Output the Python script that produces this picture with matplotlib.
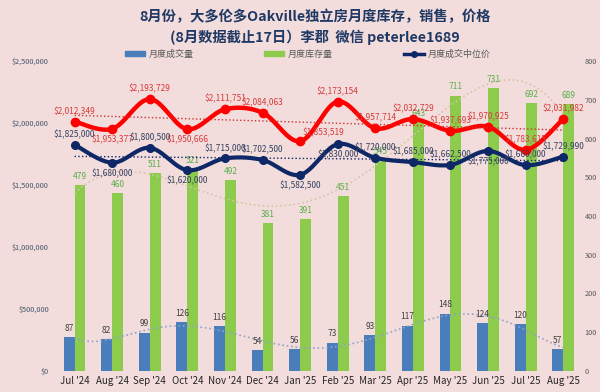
import matplotlib
matplotlib.use("Agg")
import matplotlib.pyplot as plt
import numpy as np
from matplotlib.lines import Line2D
from matplotlib.patches import Patch
from matplotlib.ticker import FuncFormatter

plt.rcParams["font.family"] = ["Noto Sans CJK SC", "DejaVu Sans"]

MONTHS = ["Jul '24", "Aug '24", "Sep '24", "Oct '24", "Nov '24", "Dec '24", "Jan '25",
          "Feb '25", "Mar '25", "Apr '25", "May '25", "Jun '25", "Jul '25", "Aug '25"]
SALES = [87, 82, 99, 126, 116, 54, 56, 73, 93, 117, 148, 124, 120, 57]
INVENTORY = [479, 460, 511, 521, 492, 381, 391, 451, 545, 643, 711, 731, 692, 689]
AVG_PRICE = [2012349, 1953377, 2193729, 1950666, 2111751, 2084063, 1853519,
             2173154, 1957714, 2032729, 1937693, 1970925, 1783615, 2031982]
MEDIAN_PRICE = [1825000, 1680000, 1800500, 1620000, 1715000, 1702500, 1582500,
                1830000, 1720000, 1685000, 1662500, 1775000, 1660000, 1729990]

# label placement: 1 above, -1 below, 2 to the right
AVG_POS = [1, -1, 1, -1, 1, 1, 2, 1, 1, 1, 1, 1, 1, 1]
MED_POS = [1, -1, 1, -1, 1, 1, -1, -1, 1, 1, 1, -1, 1, 1]

BG = "#F2DDDC"
BLUE = "#4A7EBB"
GREEN = "#8CCB4C"
RED = "#FF0000"
NAVY = "#0E2766"
TITLE = "#1F3864"


def smooth(x, y, n=24):
    """Catmull-Rom curve through the points, like Excel's smoothed line."""
    x = np.asarray(x, float)
    y = np.asarray(y, float)
    px = np.concatenate([[x[0]], x, [x[-1]]])
    py = np.concatenate([[y[0]], y, [y[-1]]])
    xs, ys = [], []
    t = np.linspace(0, 1, n, endpoint=False)
    for i in range(1, len(px) - 2):
        for p, out in ((px, xs), (py, ys)):
            p0, p1, p2, p3 = p[i - 1], p[i], p[i + 1], p[i + 2]
            out.extend(0.5 * (2 * p1 + (-p0 + p2) * t + (2 * p0 - 5 * p1 + 4 * p2 - p3) * t ** 2
                              + (-p0 + 3 * p1 - 3 * p2 + p3) * t ** 3))
    xs.append(x[-1])
    ys.append(y[-1])
    return np.array(xs), np.array(ys)


def main() -> None:
    x = np.arange(len(MONTHS))
    fig = plt.figure(figsize=(6.0, 3.92), dpi=100, facecolor=BG)
    ax_cnt = fig.add_axes([0.093, 0.054, 0.877, 0.790])
    ax_px = ax_cnt.twinx()
    ax_cnt.set_zorder(1)
    ax_px.set_zorder(2)
    for a in (ax_cnt, ax_px):
        a.set_facecolor("none")
        for s in a.spines.values():
            s.set_visible(False)

    # bars on the count axis (right side)
    w = 0.29
    ax_cnt.bar(x - w / 2, SALES, w, color=BLUE)
    ax_cnt.bar(x + w / 2, INVENTORY, w, color=GREEN)
    xf = np.linspace(0, len(x) - 1, 200)
    ax_cnt.plot(xf, np.polyval(np.polyfit(x, SALES, 6), xf), ls=":", lw=1.2, color="#8FA3C8")
    ax_cnt.plot(xf, np.polyval(np.polyfit(x, INVENTORY, 4), xf), ls=":", lw=1.2, color="#D8C3A3")
    for xi, v in zip(x, SALES):
        ax_cnt.annotate(str(v), (xi - w / 2, v), xytext=(0, 3), textcoords="offset points",
                        ha="center", va="bottom", fontsize=6, color="#404040")
    for xi, v in zip(x, INVENTORY):
        ax_cnt.annotate(str(v), (xi + w / 2, v), xytext=(0, 3), textcoords="offset points",
                        ha="center", va="bottom", fontsize=6, color="#5AAE48")
    ax_cnt.set_ylim(0, 800)
    ax_cnt.set_yticks(range(0, 801, 100))
    ax_cnt.yaxis.tick_right()

    # price lines on the dollar axis (left side)
    sx, sy = smooth(x, AVG_PRICE)
    ax_px.plot(sx, sy, color=RED, lw=3.2, solid_capstyle="round")
    ax_px.plot(x, AVG_PRICE, "o", color=RED, ms=6)
    sx, sy = smooth(x, MEDIAN_PRICE)
    ax_px.plot(sx, sy, color=NAVY, lw=3.0, solid_capstyle="round")
    ax_px.plot(x, MEDIAN_PRICE, "o", color=NAVY, ms=5.5)
    for vals, col in ((AVG_PRICE, "#D03030"), (MEDIAN_PRICE, NAVY)):
        k, b = np.polyfit(x, vals, 1)
        ax_px.plot(x, k * x + b, ls=":", lw=1.0, color=col)

    for vals, pos, col in ((AVG_PRICE, AVG_POS, "#D83A3A"), (MEDIAN_PRICE, MED_POS, "#34405E")):
        for xi, v, p in zip(x, vals, pos):
            if p == 1:
                off, va, ha = (0, 4), "bottom", "center"
            elif p == -1:
                off, va, ha = (0, -4), "top", "center"
            else:
                off, va, ha = (2, 3), "bottom", "left"
            ax_px.annotate(f"${v:,}", (xi, v), xytext=off, textcoords="offset points",
                           ha=ha, va=va, fontsize=6, color=col)
    ax_px.set_ylim(0, 2500000)
    ax_px.set_yticks(range(0, 2500001, 500000))
    ax_px.yaxis.tick_left()
    ax_px.yaxis.set_major_formatter(FuncFormatter(lambda v, _: f"${v:,.0f}"))

    ax_cnt.set_xlim(-0.5, len(x) - 0.5)
    ax_cnt.set_xticks(x)
    ax_cnt.set_xticklabels(MONTHS, fontsize=7, color="#262626")
    ax_cnt.tick_params(axis="y", length=0, labelsize=5.3, labelcolor="#595959", pad=2)
    ax_cnt.tick_params(axis="x", length=0, pad=4)
    ax_px.tick_params(axis="y", length=0, labelsize=5.3, labelcolor="#44546A", pad=5)

    fig.text(0.525, 0.957, "8月份，大多伦多Oakville独立房月度库存，销售，价格", ha="center", va="center",
             fontsize=10.3, fontweight="bold", color=TITLE)
    fig.text(0.525, 0.906, "(8月数据截止17日）李郡  微信 peterlee1689", ha="center", va="center",
             fontsize=10.3, fontweight="bold", color=TITLE)

    entries = [
        (Patch(color=BLUE), "月度成交量", 0.208),
        (Patch(color=GREEN), "月度库存量", 0.440),
        (Line2D([], [], color=NAVY, lw=2.5, marker="o", ms=4), "月度成交中位价", 0.674),
    ]
    for handle, label, xpos in entries:
        fig.legend([handle], [label], loc="center left", bbox_to_anchor=(xpos, 0.862),
                   frameon=False, fontsize=6.5, labelcolor="#595959", handlelength=2.2,
                   handleheight=0.5, handletextpad=0.4, borderpad=0, borderaxespad=0)

    fig.savefig("out.png", dpi=100, facecolor=BG)
    plt.close(fig)


if __name__ == "__main__":
    main()
